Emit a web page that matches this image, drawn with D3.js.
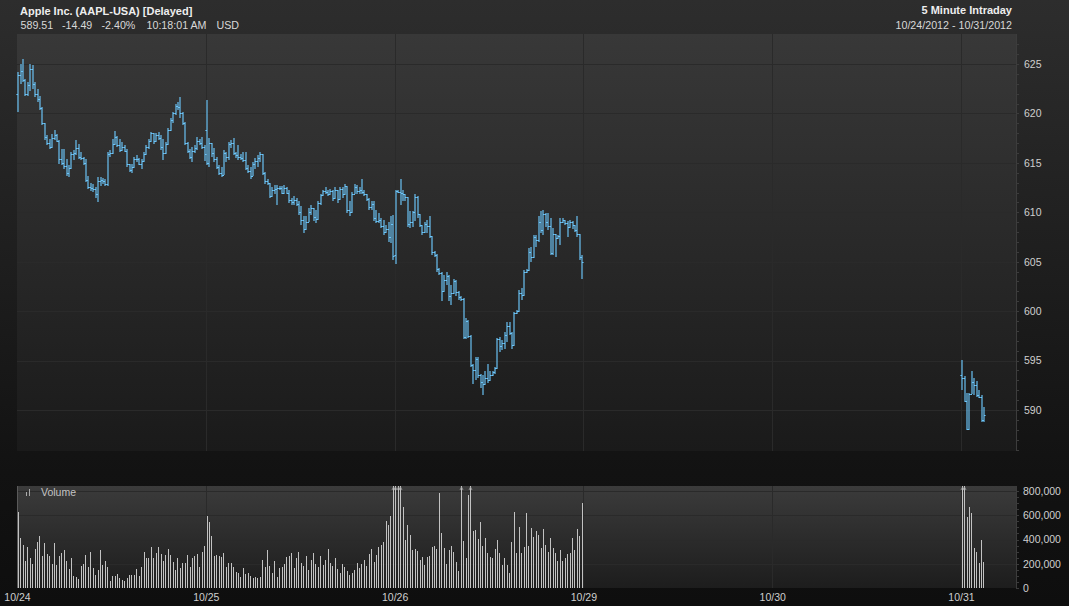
<!DOCTYPE html>
<html><head><meta charset="utf-8">
<script src="https://cdn.jsdelivr.net/npm/d3@7"></script>
<style>
html,body{margin:0;padding:0;background:#111;}
svg{display:block;}
</style></head><body>
<svg id="c" width="1069" height="606"></svg>
<script>
// ---------- DATA ----------
const dayLabels = ["10/24","10/25","10/26","10/29","10/30","10/31"];
const slotsPerDay = 78;               // 5-minute bars in a session
const priceTicks = [590,595,600,605,610,615,620,625];
const volumeTicksK = [0,200,400,600,800];   // thousands of shares

const open24 = [622.0,623.9,624.3,623.4,622.0,622.9,624.5,623.0,622.0,621.5,
620.5,619.0,617.6,617.0,616.6,617.5,617.8,617.2,615.4,615.0,
614.7,614.0,614.5,615.9,616.0,616.5,615.6,615.5,615.0,613.3,
612.6,612.5,612.4,611.8,613.2,613.3,613.2,612.9,615.9,616.0,
616.9,617.6,616.8,616.3,616.6,616.2,614.9,614.3,614.6,615.4,
615.4,614.9,615.2,615.9,616.6,617.2,618.0,617.2,617.8,617.5,
616.6,616.0,616.9,618.3,619.3,620.0,620.8,620.6,620.0,619.0,
617.0,616.2,615.6,616.2,616.5,617.2,617.0,616.6];
const high24 = [624.2,625.0,625.5,623.5,623.2,625.0,624.9,623.2,622.5,621.8,
620.6,619.0,617.8,617.4,617.9,618.3,617.9,617.3,616.4,616.4,
615.4,614.8,616.1,616.3,617.3,616.9,616.1,615.6,615.4,613.7,
613.0,612.9,612.6,613.6,613.6,613.5,613.4,616.1,616.3,617.4,
618.2,617.7,617.4,617.1,616.8,616.4,614.9,614.9,615.6,615.8,
615.5,615.4,616.1,616.8,617.4,618.1,618.0,618.0,618.1,617.8,
617.4,617.1,618.5,619.5,620.1,621.0,621.2,621.7,620.1,619.1,
617.1,616.4,616.6,616.8,617.6,617.4,617.6,616.8];
const low24 = [620.1,623.0,623.2,621.8,621.8,622.3,622.5,621.7,621.2,620.3,
618.8,617.3,616.8,616.4,616.5,617.3,617.1,614.9,614.8,614.4,
613.7,613.6,614.4,615.3,615.8,615.4,615.3,614.8,613.1,612.4,
612.2,612.1,611.4,611.0,612.7,612.9,612.7,612.7,615.6,615.9,
616.8,616.6,616.1,616.2,616.1,614.6,614.1,614.0,614.5,615.1,
614.8,614.4,615.1,615.8,616.4,617.1,616.9,617.1,617.3,616.3,
615.3,615.9,616.8,618.2,619.0,619.8,620.3,619.5,618.8,616.8,
616.0,615.4,615.1,616.0,616.3,616.8,616.4,615.2];
const close24 = [623.9,624.3,623.4,622.0,622.9,624.5,623.0,622.0,621.5,620.5,
619.0,617.6,617.0,616.6,617.5,617.8,617.2,615.4,615.0,614.7,
614.0,614.5,615.9,616.0,616.5,615.6,615.5,615.0,613.3,612.6,
612.5,612.4,611.8,613.2,613.3,613.2,612.9,615.9,616.0,616.9,
617.6,616.8,616.3,616.6,616.2,614.9,614.3,614.6,615.4,615.4,
614.9,615.2,615.9,616.6,617.2,618.0,617.2,617.8,617.5,616.6,
616.0,616.9,618.3,619.3,620.0,620.8,620.6,620.0,619.0,617.0,
616.2,615.6,616.2,616.5,617.2,617.0,616.6,615.9];

const open25 = [618.3,615.0,617.0,616.0,615.4,614.6,614.0,613.8,616.0,615.6,
616.9,617.0,616.0,615.8,615.6,615.5,615.3,614.5,614.2,613.7,
614.9,615.2,615.5,615.9,614.0,613.2,613.0,611.6,612.3,612.4,
612.5,612.5,612.0,612.5,612.0,611.2,611.0,611.2,610.8,610.0,
609.2,608.3,609.0,610.0,610.4,609.5,609.3,610.9,611.7,612.2,
612.1,611.8,612.2,611.4,612.3,611.3,612.4,611.8,612.7,610.2,
610.0,611.9,612.6,612.2,612.3,612.1,611.8,611.3,610.5,610.8,
609.4,609.1,609.2,608.6,608.0,608.3,607.5,608.8];
const high25 = [621.4,617.5,617.0,616.5,615.6,614.8,614.6,616.3,616.1,617.1,
617.3,617.5,616.1,616.8,615.9,616.1,616.1,614.8,614.6,615.1,
615.5,615.8,616.1,615.9,614.1,613.4,613.0,612.6,612.8,612.8,
612.7,612.7,612.8,612.6,612.3,611.4,611.6,611.4,611.1,610.6,
609.6,609.6,610.4,610.7,610.4,610.2,611.1,611.9,612.3,612.6,
612.3,612.4,612.3,612.6,612.3,612.6,612.6,612.9,612.7,611.1,
612.1,612.9,612.8,612.6,613.4,612.3,611.9,611.4,611.1,611.1,
610.2,609.9,609.4,609.2,608.7,609.0,609.6,609.7];
const low25 = [614.8,614.6,615.6,615.1,614.4,613.8,613.6,613.8,615.1,615.3,
616.5,615.8,615.5,615.3,615.3,615.1,614.3,614.0,613.4,613.7,
614.4,614.6,615.1,613.8,612.9,612.8,611.4,611.5,611.8,610.7,
612.3,611.9,611.9,611.8,610.9,610.7,610.7,610.6,609.7,608.7,
607.9,608.2,609.0,609.7,609.1,608.9,609.2,610.7,611.6,611.8,
611.6,611.7,611.1,611.3,610.9,611.2,611.4,611.7,609.9,609.6,
609.9,611.8,611.9,611.9,611.9,611.6,611.1,610.2,610.2,609.1,
608.9,608.9,608.4,607.7,607.9,607.0,606.9,605.2];
const close25 = [615.0,617.0,616.0,615.4,614.6,614.0,613.8,616.0,615.6,616.9,
617.0,616.0,615.8,615.6,615.5,615.3,614.5,614.2,613.7,614.9,
615.2,615.5,615.9,614.0,613.2,613.0,611.6,612.3,612.4,612.5,
612.5,612.0,612.5,612.0,611.2,611.0,611.2,610.8,610.0,609.2,
608.3,609.0,610.0,610.4,609.5,609.3,610.9,611.7,612.2,612.1,
611.8,612.2,611.4,612.3,611.3,612.4,611.8,612.7,610.2,610.0,
611.9,612.6,612.2,612.3,612.1,611.8,611.3,610.5,610.8,609.4,
609.1,609.2,608.6,608.0,608.3,607.5,608.8,605.6];

const open26 = [605.7,612.2,612.1,612.0,611.8,611.5,608.8,609.0,610.0,611.5,
609.8,608.7,608.0,608.8,608.6,607.6,606.0,605.7,604.3,603.9,
602.0,603.2,603.6,601.5,601.8,603.0,601.9,601.4,601.2,597.4,
599.0,597.5,594.6,594.0,595.2,593.5,592.8,592.6,593.2,593.0,
593.5,593.8,594.2,597.2,596.5,596.8,597.6,598.5,597.8,596.6,
599.8,600.0,601.8,601.6,604.0,604.2,606.0,605.5,607.5,607.2,
609.0,608.2,609.8,609.0,608.6,605.9,607.8,607.4,607.6,609.0,
609.2,608.9,608.5,609.0,608.7,608.2,607.8,605.5];
const high26 = [612.3,612.3,613.4,612.3,611.9,611.5,610.1,610.1,611.8,611.6,
609.8,608.7,609.0,609.2,609.6,607.6,606.1,605.8,604.4,604.0,
603.7,604.0,603.7,602.6,603.3,603.1,602.0,601.5,601.3,599.3,
599.1,597.6,594.7,595.4,595.4,593.6,593.5,593.9,594.7,593.9,
593.9,594.4,597.3,597.4,597.1,597.9,598.9,598.9,597.9,599.9,
600.1,602.1,602.3,604.2,604.3,606.4,606.5,607.7,607.7,609.6,
610.1,610.2,609.9,609.9,609.4,608.4,607.8,607.7,609.4,609.4,
609.2,609.1,609.2,609.1,608.7,609.6,607.8,605.7];
const low26 = [604.8,612.0,610.7,611.1,611.1,608.5,608.4,608.5,609.1,609.4,
608.5,607.7,607.9,607.9,607.4,605.7,605.5,604.0,603.7,601.0,
601.9,602.6,601.0,600.6,601.7,601.5,601.1,601.0,597.2,597.2,
597.3,594.4,592.6,593.0,593.2,592.2,591.5,592.5,592.7,592.9,
593.4,593.6,594.1,595.9,596.1,596.2,596.9,597.6,596.2,596.5,
599.7,599.9,601.1,601.5,603.9,604.1,605.0,605.4,606.5,607.0,
607.9,607.7,608.5,608.2,605.7,605.7,605.5,607.3,606.7,608.9,
608.7,607.5,608.4,608.3,608.0,607.5,605.2,603.3];
const close26 = [612.2,612.1,612.0,611.8,611.5,608.8,609.0,610.0,611.5,609.8,
608.7,608.0,608.8,608.6,607.6,606.0,605.7,604.3,603.9,602.0,
603.2,603.6,601.5,601.8,603.0,601.9,601.4,601.2,597.4,599.0,
597.5,594.6,594.0,595.2,593.5,592.8,592.6,593.2,593.0,593.5,
593.8,594.2,597.2,596.5,596.8,597.6,598.5,597.8,596.6,599.8,
600.0,601.8,601.6,604.0,604.2,606.0,605.5,607.5,607.2,609.0,
608.2,609.8,609.0,608.6,605.9,607.8,607.4,607.6,609.0,609.2,
608.9,608.5,609.0,608.7,608.2,607.8,605.5,605.0];

const open31  = [593.5,593.2,590.9,588.1,591.6,592.8,592.5,591.5,591.3,589.0];
const high31  = [595.1,593.4,591.7,591.7,593.9,593.2,592.9,592.0,591.5,590.3];
const low31   = [592.0,590.8,588.0,588.0,591.6,591.5,591.3,591.2,588.8,588.8];
const close31 = [593.2,590.9,588.1,591.6,592.8,592.5,591.5,591.3,589.0,589.5];

// volume, thousands of shares
const vol24 = [630,410,355,225,341,245,198,324,382,429,
267,374,283,264,198,374,192,267,291,313,
225,154,247,99,88,74,181,198,272,176,
300,165,104,148,313,190,225,176,60,99,
99,115,80,66,55,85,107,107,110,154,
99,176,300,250,250,335,250,290,340,280,
220,275,325,270,215,150,250,165,210,205,
270,170,250,260,280,170,300,350];
const vol25 = [594,547,429,264,272,264,253,286,176,209,
203,176,135,121,88,162,115,121,99,80,
88,80,93,231,176,313,184,121,225,93,
162,176,198,256,264,286,165,250,300,210,
180,260,150,230,290,200,170,260,190,230,
320,210,180,250,160,120,200,170,140,110,
121,148,209,168,198,231,181,280,319,217,
272,335,355,382,555,520,594,850];
const vol26 = [1100,950,900,670,396,520,437,313,319,308,
231,258,190,253,264,335,346,324,780,456,
327,198,313,346,300,217,140,850,390,245,
767,850,466,479,402,547,346,409,286,258,
245,319,396,286,190,245,190,121,381,630,
286,506,291,342,616,346,492,423,467,437,
326,484,355,299,409,326,286,225,313,225,
245,280,291,409,313,484,425,698];
const vol31 = [1200,1000,588,671,621,327,300,203,396,217];

const dayOpen  = [open24, open25, open26, [], [], open31];
const dayHigh  = [high24, high25, high26, [], [], high31];
const dayLow   = [low24,  low25,  low26,  [], [], low31];
const dayClose = [close24,close25,close26,[], [], close31];
const dayVol   = [vol24,  vol25,  vol26,  [], [], vol31];

// ---------- LAYOUT ----------
const W = 1069, H = 606;
const L = 17, R = 1016;
const pTop = 34, pBot = 451, vTop = 486, vBot = 588;
const FONT = '"Liberation Sans", Arial, Helvetica, sans-serif';

const svg = d3.select("#c");
const defs = svg.append("defs");
function grad(id, stops){
  const g = defs.append("linearGradient").attr("id", id).attr("x1",0).attr("y1",0).attr("x2",0).attr("y2",1);
  stops.forEach(s => g.append("stop").attr("offset", s[0]).attr("stop-color", s[1]));
}
grad("bg",   [[0,"#2d2d2d"],[0.78,"#121212"],[1,"#0e0e0e"]]);
grad("pbg",  [[0,"#383838"],[1,"#1a1a1a"]]);
grad("vbg",  [[0,"#3b3b3b"],[1,"#1d1d1d"]]);

svg.append("rect").attr("width", W).attr("height", H).attr("fill", "url(#bg)");
svg.append("rect").attr("x", L).attr("y", pTop).attr("width", R-L).attr("height", pBot-pTop).attr("fill","url(#pbg)");
svg.append("rect").attr("x", L).attr("y", vTop).attr("width", R-L).attr("height", vBot-vTop).attr("fill","url(#vbg)");

// scales
const x  = d3.scaleLinear().domain([0, 5*slotsPerDay]).range([17, 961]);
const y  = d3.scaleLinear().domain([590, 625]).range([410, 64]);
const yv = d3.scaleLinear().domain([0, 800]).range([588, 491]);
const crisp = v => Math.round(v) + 0.5;

// gridlines
const grid = svg.append("g").attr("stroke", "#2a2a2a").attr("stroke-width", 1).attr("shape-rendering","crispEdges");
priceTicks.forEach(t => grid.append("line").attr("x1", L).attr("x2", R).attr("y1", crisp(y(t))).attr("y2", crisp(y(t))));
volumeTicksK.filter(t => t > 0).forEach(t => grid.append("line").attr("x1", L).attr("x2", R).attr("y1", crisp(yv(t))).attr("y2", crisp(yv(t))));
dayLabels.forEach((d, i) => {
  if (i === 0) return;
  const xx = crisp(x(i*slotsPerDay));
  grid.append("line").attr("x1", xx).attr("x2", xx).attr("y1", pTop).attr("y2", pBot);
  grid.append("line").attr("x1", xx).attr("x2", xx).attr("y1", vTop).attr("y2", vBot);
});
svg.append("line").attr("x1", L+0.5).attr("x2", L+0.5).attr("y1", vTop).attr("y2", vBot)
  .attr("stroke", "#5a5a5a").attr("shape-rendering","crispEdges");

// build bars from the day arrays
const bars = [];
dayLabels.forEach((d, di) => {
  dayOpen[di].forEach((o, i) => {
    bars.push({slot: di*slotsPerDay + i, o, h: dayHigh[di][i], l: dayLow[di][i], c: dayClose[di][i], v: dayVol[di][i]});
  });
});
const cx = b => Math.floor(x(b.slot + 0.5)) + 0.5;
const cxs = b => Math.round(x(b.slot + 0.5));

// OHLC bars
svg.append("g").selectAll("path").data(bars).join("path")
  .attr("d", b => {
    const X = cxs(b);
    let yh = Math.round(y(b.h)), yl = Math.round(y(b.l));
    if (yl - yh < 1) yl = yh + 1;
    const yo = crisp(y(b.o)), yc = crisp(y(b.c));
    return `M${X},${yh}V${yl}M${X-1.6},${yo}H${X}M${X},${yc}H${X+1.6}`;
  })
  .attr("fill", "none").attr("stroke", "#6cc6fa").attr("stroke-width", 1.15);

// volume bars
const vMaxVisible = yv.invert(vTop);
svg.append("g").selectAll("line").data(bars).join("line")
  .attr("x1", cx).attr("x2", cx)
  .attr("y1", vBot).attr("y2", b => Math.max(vTop, yv(b.v)))
  .attr("stroke", "#c2c2c2").attr("stroke-width", 1).attr("shape-rendering","crispEdges");
svg.append("g").selectAll("path").data(bars.filter(b => b.v > vMaxVisible)).join("path")
  .attr("d", b => { const X = cx(b); return `M${X-1.5},${vTop+4}L${X},${vTop+1}L${X+1.5},${vTop+4}`; })
  .attr("fill", "none").attr("stroke", "#aaaaaa").attr("stroke-width", 0.8);

// right axis lines with minor ticks
const axisCol = "#3c3c3c";
const ax = svg.append("g").attr("stroke", axisCol).attr("shape-rendering","crispEdges");
ax.append("line").attr("x1", R+0.5).attr("x2", R+0.5).attr("y1", pTop).attr("y2", pBot);
ax.append("line").attr("x1", R+0.5).attr("x2", R+0.5).attr("y1", vTop).attr("y2", vBot);
d3.range(586, 628, 1).forEach(v => {
  const yy = crisp(y(v));
  if (yy > pTop && yy < pBot) ax.append("line").attr("x1", R).attr("x2", R+3).attr("y1", yy).attr("y2", yy);
});
d3.range(0, 850, 50).forEach(v => {
  const yy = crisp(yv(v));
  ax.append("line").attr("x1", R).attr("x2", R+3).attr("y1", yy).attr("y2", yy);
});

// axes (labels)
function styleAxis(g, size){
  g.attr("font-family", FONT).attr("font-size", size);
  g.select(".domain").remove();
  g.selectAll(".tick line").remove();
  g.selectAll("text").attr("fill", "#cfcfcf");
}
svg.append("g").attr("transform", `translate(${R},0)`)
  .call(d3.axisRight(y).tickValues(priceTicks).tickSize(0).tickPadding(8))
  .call(g => styleAxis(g, 10.5));
svg.append("g").attr("transform", `translate(${R},0)`)
  .call(d3.axisRight(yv).tickValues(volumeTicksK).tickSize(0).tickPadding(7)
    .tickFormat(d => d3.format(",")(d*1000)))
  .call(g => styleAxis(g, 10.5));
svg.append("g").attr("transform", `translate(0,${vBot})`)
  .call(d3.axisBottom(x).tickValues(dayLabels.map((d,i) => i*slotsPerDay)).tickSize(0).tickPadding(6)
    .tickFormat((d,i) => dayLabels[i]))
  .call(g => styleAxis(g, 10.5));

// volume legend
svg.append("rect").attr("x", 26).attr("y", 492).attr("width", 1).attr("height", 4).attr("fill", "#aaa");
svg.append("rect").attr("x", 29).attr("y", 489).attr("width", 1).attr("height", 7).attr("fill", "#aaa");
svg.append("text").attr("x", 41).attr("y", 496).attr("font-family", FONT).attr("font-size", 10.5)
  .attr("fill", "#c4c4c4").text("Volume");

// header
const hdr = svg.append("g").attr("font-family", FONT);
hdr.append("text").attr("x", 20).attr("y", 14.5).attr("font-size", 11).attr("font-weight", "bold")
  .attr("fill", "#eeeeee").text("Apple Inc. (AAPL-USA) [Delayed]");
const quote = [["589.51", 20.5], ["-14.49", 62], ["-2.40%", 101.5], ["10:18:01 AM", 146.5], ["USD", 216.5]];
quote.forEach(q => hdr.append("text").attr("x", q[1]).attr("y", 29.3).attr("font-size", 10.7)
  .attr("fill", "#d8d8d8").text(q[0]));
hdr.append("text").attr("x", 1012).attr("y", 14.3).attr("text-anchor", "end").attr("font-size", 11)
  .attr("font-weight", "bold").attr("fill", "#eeeeee").text("5 Minute Intraday");
hdr.append("text").attr("x", 1012).attr("y", 28.8).attr("text-anchor", "end").attr("font-size", 10.7)
  .attr("fill", "#d8d8d8").text("10/24/2012 - 10/31/2012");
</script>
</body></html>
